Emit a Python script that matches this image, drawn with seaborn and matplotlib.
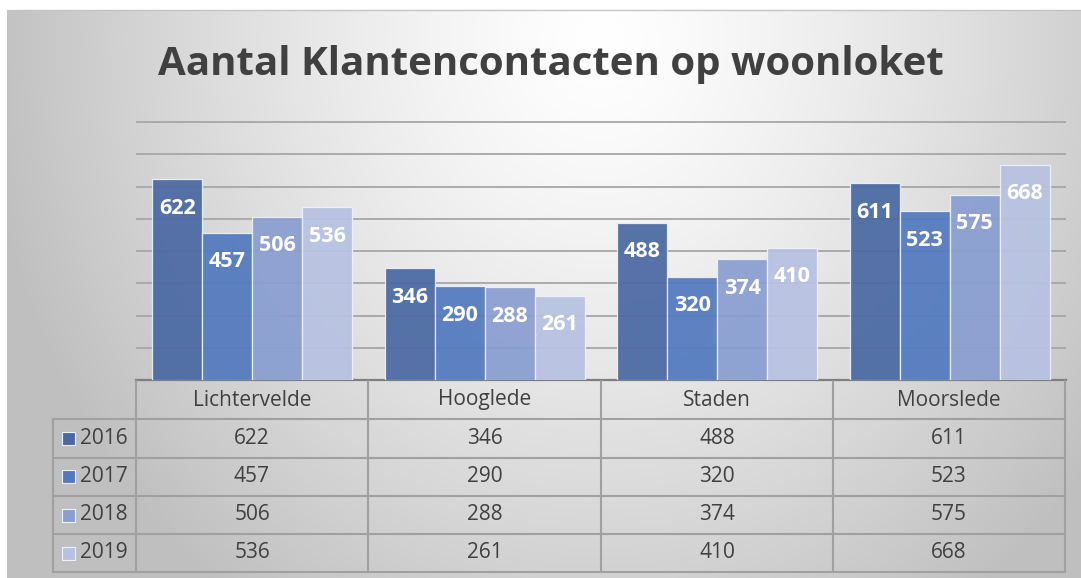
import numpy as np
import pandas as pd
import matplotlib
matplotlib.use("Agg")
import matplotlib.pyplot as plt
import seaborn as sns
from matplotlib.patches import Rectangle
from matplotlib.lines import Line2D

# ---- data -------------------------------------------------------------
gemeenten = ["Lichtervelde", "Hooglede", "Staden", "Moorslede"]
jaren = ["2016", "2017", "2018", "2019"]
aantal_2016 = [622, 346, 488, 611]
aantal_2017 = [457, 290, 320, 523]
aantal_2018 = [506, 288, 374, 575]
aantal_2019 = [536, 261, 410, 668]
kleuren = ["#4a69a3", "#5279be", "#899ed1", "#b7c2e2"]
titel = "Aantal Klantencontacten op woonloket"

per_jaar = [aantal_2016, aantal_2017, aantal_2018, aantal_2019]
df = pd.DataFrame({
    "gemeente": gemeenten * len(jaren),
    "jaar": np.repeat(jaren, len(gemeenten)),
    "aantal": sum(per_jaar, []),
})

# ---- figure -------------------------------------------------------------
W, H = 1081, 578
sns.set_theme(style="white")
plt.rcParams["font.family"] = ["Open Sans", "DejaVu Sans"]
TXT = "#404040"

fig = plt.figure(figsize=(W / 100, H / 100), dpi=100, facecolor="white")


def px(x0, y0, x1, y1):
    """Pixel box (origin top-left) -> figure-fraction rectangle."""
    return [x0 / W, 1 - y1 / H, (x1 - x0) / W, (y1 - y0) / H]


# radial grey background of the chart area
bg = fig.add_axes(px(7, 10, W, H), zorder=0)
ny, nx = 300, 600
yy, xx = np.mgrid[0:ny, 0:nx]
X = 7 + xx / (nx - 1) * (W - 7)
Y = 10 + yy / (ny - 1) * (H - 10)
r = np.sqrt(((X - 600) / 620) ** 2 + ((Y - 40) / 700) ** 2)
r = np.clip(r, 0, 1)
v = 1.0 - 0.25 * r ** 1.3
bg.imshow(np.dstack([v, v, v]), aspect="auto", extent=[0, 1, 0, 1],
          origin="upper", interpolation="bilinear")
bg.set_axis_off()
fig.add_artist(Line2D([7 / W, 1], [1 - 10 / H, 1 - 10 / H], color="#c4c4c4", lw=1.0))

# ---- bars ------------------------------------------------------------------
top_px, base_px = 118, 380
ax = fig.add_axes(px(136, top_px, 1066, base_px), zorder=2)
ax.patch.set_alpha(0)
sns.barplot(data=df, x="gemeente", y="aantal", hue="jaar", order=gemeenten,
            hue_order=jaren, palette=kleuren, saturation=1, width=0.86,
            edgecolor="#eef1f8", linewidth=0.9, alpha=0.93, legend=False,
            zorder=3, ax=ax)
ymax = 800 * (base_px - top_px) / (base_px - 122)
ax.set_ylim(0, ymax)
ax.set_xlim(-0.5, len(gemeenten) - 0.5)
ax.set_yticks(range(100, 801, 100))
ax.yaxis.grid(True, color="#a6a6a6", lw=1.3)
ax.set_axisbelow(True)
ax.tick_params(left=False, labelleft=False, bottom=False, labelbottom=False)
ax.set_xlabel("")
ax.set_ylabel("")
for side in ["top", "left", "right"]:
    ax.spines[side].set_visible(False)
ax.spines["bottom"].set_color("#7f7f7f")
ax.spines["bottom"].set_linewidth(1.6)

for cont in ax.containers:
    labels = ax.bar_label(cont, fmt="%d", padding=-21, color="white",
                          fontsize=15.5, fontweight="bold")
    for t in labels:
        t.set_va("center")

# ---- title -----------------------------------------------------------------
fig.text(551 / W, 1 - 75 / H, titel, ha="center", va="baseline",
         fontsize=29, fontweight="bold", color=TXT)

# ---- data table ------------------------------------------------------------
tab = fig.add_axes([0, 0, 1, 1], zorder=4)
tab.set_xlim(0, W)
tab.set_ylim(H, 0)
tab.set_axis_off()
tab.patch.set_alpha(0)

col_x = [136, 368, 601, 833, 1065]
row_y = [381, 419, 457.5, 496, 534, 572]
leg_x0 = 53
lc, lw = "#a0a0a0", 1.5

for y in row_y[1:]:
    tab.plot([leg_x0, col_x[-1]], [y, y], color=lc, lw=lw, solid_capstyle="projecting")
tab.plot([leg_x0, leg_x0], [row_y[1], row_y[-1]], color=lc, lw=lw)
for x in col_x:
    tab.plot([x, x], [row_y[0], row_y[-1]], color=lc, lw=lw)

fs = 15
for j, naam in enumerate(gemeenten):
    cx = (col_x[j] + col_x[j + 1]) / 2
    tab.text(cx, (row_y[0] + row_y[1]) / 2, naam, ha="center", va="center",
             fontsize=fs, color=TXT)
    for i, reeks in enumerate(per_jaar):
        cy = (row_y[i + 1] + row_y[i + 2]) / 2
        tab.text(cx, cy, str(reeks[j]), ha="center", va="center",
                 fontsize=fs, color=TXT)

for i, jaar in enumerate(jaren):
    cy = (row_y[i + 1] + row_y[i + 2]) / 2
    tab.add_patch(Rectangle((61.5, cy - 6.5), 13, 13, facecolor=kleuren[i],
                            edgecolor="#eef1f8", lw=0.8))
    tab.text(80, cy, jaar, ha="left", va="center", fontsize=fs, color=TXT)

fig.savefig("out.png", dpi=100, facecolor="white")
